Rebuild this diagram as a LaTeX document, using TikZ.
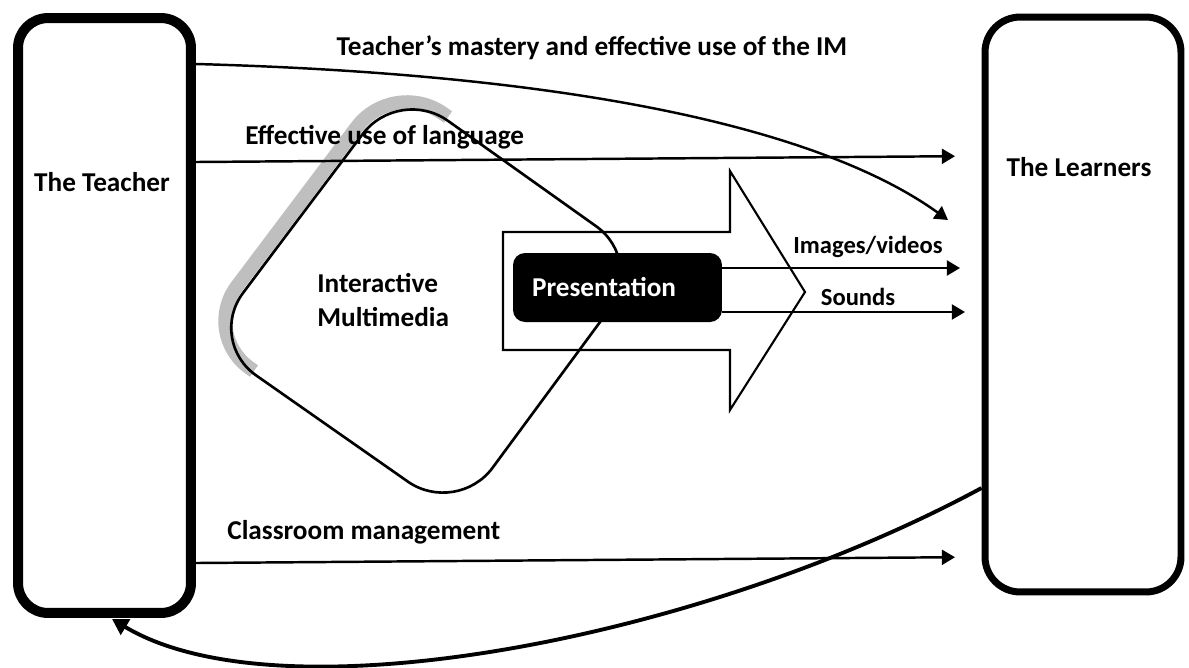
\documentclass[tikz,border=0pt]{standalone}
\usepackage{fontspec}
\setsansfont{Carlito}
\usetikzlibrary{arrows.meta,calc}

\begin{document}
\begin{tikzpicture}[x=0.02cm, y=-0.02cm, font=\sffamily\bfseries,
    lbl/.style={font=\fontsize{15.5}{19}\selectfont\sffamily\bfseries},
    small/.style={font=\fontsize{14}{17}\selectfont\sffamily\bfseries},
    arr/.style={line width=1.4pt, -{Triangle[length=7.5pt,width=8.5pt]}}]
        \useasboundingbox (0,0) rectangle (1189,667);
        % actors
        \node[draw, line width=0.2cm, rounded corners=0.6cm, minimum width=3.46cm, minimum height=11.9cm] (teacher) at (104.5,315.5) {};
        \node[draw, line width=0.14cm, rounded corners=0.7cm, minimum width=3.92cm, minimum height=11.5cm] (learners) at (1083,304.5) {};
        \node[lbl] (teachertxt) at (102,182) {The Teacher};
        \node[lbl] (learnerstxt) at (1079,167) {The Learners};

        % interactive multimedia
        \draw[gray!50, line width=0.28cm, rounded corners=1.2cm] (448,117) -- (393,79) -- (201,334) -- (254,371);
        \draw[line width=1.5pt, rounded corners=1.2cm] (303,213) -- (399,86) -- (645,261) -- (457,516) -- (207,341) -- cycle;
        \node[lbl, align=left, anchor=west, inner sep=0pt] (imtxt) at (317,300) {Interactive\\Multimedia};

        % big arrow
        \draw[line width=1.2pt] (503,232) -- (730,232) -- (730,171) -- (805,292) -- (730,410) -- (730,350) -- (503,350) -- cycle;
        \node[lbl, fill=black, text=white, rounded corners=0.24cm, minimum width=4.18cm, minimum height=1.38cm, text width=3.42cm, align=left] (pres) at (617.5,287.5) {Presentation};

        \draw[arr, shorten >=0.43cm] (pres.east |- 0,268) -- (learners.west |- 0,268);
        \draw[arr, shorten >=0.33cm] (pres.east |- 0,312) -- (learners.west |- 0,312);
        \node[small] (imglbl) at (868,247) {Images/videos};
        \node[small] (sndlbl) at (858,297) {Sounds};

        % teacher to learners
        \coordinate (imtip) at (948,220);
        \draw[arr] (teacher.east |- 0,64) .. controls (600,75) and (830,135) .. (imtip);
        \node[lbl] (masterylbl) at (592,48) {Teacher’s mastery and effective use of the IM};

        \draw[arr, shorten >=0.53cm] (teacher.east |- 0,162) -- (learners.west |- 0,156);
        \node[lbl, anchor=west, inner sep=0pt] (langlbl) at (245,137) {Effective use of language};

        \draw[arr, shorten >=0.53cm] (teacher.east |- 0,563) -- (learners.west |- 0,557);
        \node[lbl, anchor=west, inner sep=0pt] (classlbl) at (227,532) {Classroom management};

        % feedback
        \coordinate (teachtip) at (112,619);
        \draw[line width=2.2pt, -{Triangle[length=9pt,width=10pt]}] (learners.west |- 0,488) .. controls (700,640) and (280,720) .. (teachtip);
\end{tikzpicture}
\end{document}
